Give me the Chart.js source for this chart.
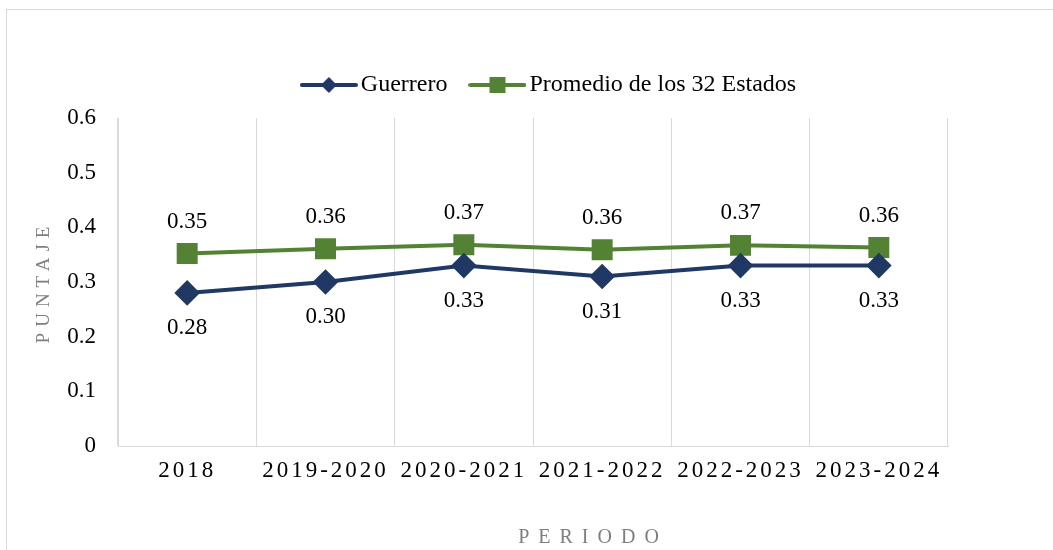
<!DOCTYPE html>
<html>
<head>
<meta charset="utf-8">
<script src="https://cdn.jsdelivr.net/npm/chart.js@4"></script>
<style>
  body { margin: 0; background: #fff; overflow: hidden; }
  #wrap { position: relative; width: 1053px; height: 550px; }
  #frame { position: absolute; left: 6px; top: 9px; width: 1100px; height: 600px;
           border-left: 1.5px solid #d9d9d9; border-top: 1.5px solid #d9d9d9; }
  #chart { position: absolute; left: 0; top: 0; }
</style>
</head>
<body>
<div id="wrap">
  <div id="frame"></div>
  <canvas id="chart" width="1053" height="550"></canvas>
</div>
<script>
var periodos = ['2018', '2019-2020', '2020-2021', '2021-2022', '2022-2023', '2023-2024'];
var guerrero = [0.28, 0.30, 0.33, 0.31, 0.33, 0.33];
var promedio = [0.352, 0.361, 0.368, 0.359, 0.367, 0.363];
var yTicks = [0, 0.1, 0.2, 0.3, 0.4, 0.5, 0.6];

var serif = "'Liberation Serif', 'Times New Roman', serif";
var navy = '#203864';
var green = '#548235';

// little legend picture: line with the marker on it
function legendIcon(color, style) {
  var c = document.createElement('canvas');
  c.width = 58; c.height = 20;
  var g = c.getContext('2d');
  g.strokeStyle = color;
  g.lineWidth = 4;
  g.lineCap = 'round';
  g.beginPath(); g.moveTo(2, 10); g.lineTo(56, 10); g.stroke();
  g.fillStyle = color;
  if (style == 'diamond') {
    g.beginPath(); g.moveTo(29, 2); g.lineTo(37, 10); g.lineTo(29, 18); g.lineTo(21, 10); g.closePath(); g.fill();
  } else {
    g.fillRect(21, 2, 16, 16);
  }
  return c;
}
var icons = [legendIcon(navy, 'diamond'), legendIcon(green, 'square')];

function spaced(fn, spacing, dx) {
  return function() {
    var ctx = this.ctx;
    ctx.save();
    ctx.letterSpacing = spacing;
    if (dx) ctx.translate(dx, 0);
    fn.apply(this, arguments);
    ctx.restore();
  };
}

var spacingPlugin = {
  id: 'spacing',
  beforeLayout: function(chart) {
    var lg = chart.legend;
    if (!lg._grown) {
      var fit = lg.fit;
      lg.fit = function() { fit.call(this); this.height += 11; };
      lg._grown = true;
    }
  },
  afterLayout: function(chart) {
    // legend sits a bit right of centre in the original
    chart.legend.left += 62;
    chart.legend.right += 62;
  },
  beforeDraw: function(chart) {
    var x = chart.scales.x, y = chart.scales.y;
    if (!x._spaced) {
      x.drawLabels = spaced(Chart.Scale.prototype.drawLabels, '3px');
      x.drawTitle = spaced(Chart.Scale.prototype.drawTitle, '9px', 60);
      x._spaced = true;
    }
    if (!y._spaced) {
      y.drawTitle = spaced(Chart.Scale.prototype.drawTitle, '6px');
      y._spaced = true;
    }
  }
};

var valueLabels = {
  id: 'valueLabels',
  afterDatasetsDraw: function(chart) {
    var ctx = chart.ctx;
    ctx.save();
    ctx.font = '23px ' + serif;
    ctx.fillStyle = '#000';
    ctx.textAlign = 'center';
    ctx.textBaseline = 'middle';
    chart.data.datasets.forEach(function(ds, i) {
      var meta = chart.getDatasetMeta(i);
      meta.data.forEach(function(pt, j) {
        var off = i == 0 ? 35 : -32;
        ctx.fillText(ds.data[j].toFixed(2), pt.x, pt.y + off);
      });
    });
    ctx.restore();
  }
};

new Chart(document.getElementById('chart').getContext('2d'), {
  type: 'line',
  data: {
    labels: periodos,
    datasets: [{
      label: 'Guerrero',
      data: guerrero,
      borderColor: navy,
      backgroundColor: navy,
      borderWidth: 4,
      pointStyle: 'rectRot',
      pointRadius: 10,
      pointHoverRadius: 10,
      tension: 0
    }, {
      label: 'Promedio de los 32 Estados',
      data: promedio,
      borderColor: green,
      backgroundColor: green,
      borderWidth: 4,
      pointStyle: 'rect',
      pointRadius: 12,
      pointHoverRadius: 12,
      tension: 0
    }]
  },
  options: {
    responsive: false,
    animation: false,
    layout: { padding: { left: 33, right: 105, top: 43, bottom: 0 } },
    plugins: {
      tooltip: { enabled: false },
      legend: {
        position: 'top',
        labels: {
          usePointStyle: true,
          pointStyleWidth: 40,
          padding: 30,
          color: '#000',
          font: { family: serif, size: 24 },
          generateLabels: function(chart) {
            return chart.data.datasets.map(function(ds, i) {
              return { text: ds.label, pointStyle: icons[i], fillStyle: ds.borderColor,
                       strokeStyle: ds.borderColor, lineWidth: 0, datasetIndex: i, hidden: false };
            });
          }
        }
      }
    },
    scales: {
      x: {
        offset: true,
        grid: { display: true, offset: true, color: '#d9d9d9', lineWidth: 1, drawTicks: false },
        border: { display: true, color: '#d9d9d9', width: 1 },
        ticks: { color: '#000', font: { family: serif, size: 23 }, padding: 11, maxRotation: 0, autoSkip: false },
        title: { display: true, text: 'PERIODO', color: '#7f7f7f', font: { family: serif, size: 20 }, padding: { top: 0, bottom: 0 } },
        afterFit: function(s) { s.height = 104; }
      },
      y: {
        min: 0,
        max: 0.6,
        grid: { display: false, drawTicks: false },
        border: { display: true, color: '#d9d9d9', width: 1 },
        afterBuildTicks: function(s) { s.ticks = yTicks.map(function(v) { return { value: v }; }); },
        ticks: { color: '#000', font: { family: serif, size: 23 }, padding: 22 },
        title: { display: true, text: 'PUNTAJE', color: '#7f7f7f', font: { family: serif, size: 19 }, padding: { top: 0, bottom: 0 } },
        afterFit: function(s) { s.width = 85; }
      }
    }
  },
  plugins: [spacingPlugin, valueLabels]
});
</script>
</body>
</html>
